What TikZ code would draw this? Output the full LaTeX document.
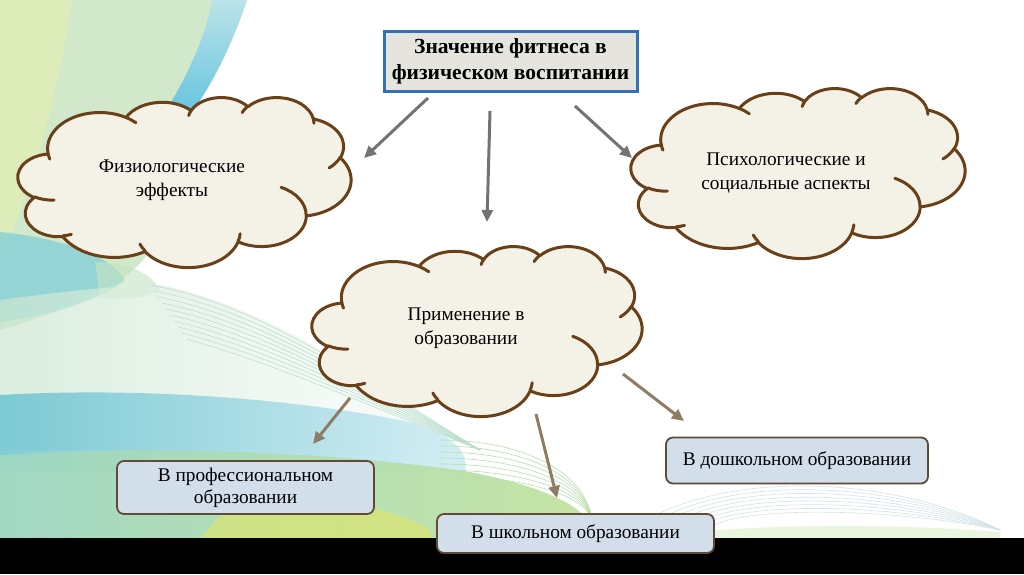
\documentclass[tikz,border=0pt]{standalone}
\usepackage{fontspec}
\setmainfont{Liberation Serif}
\usetikzlibrary{arrows.meta,calc}

\definecolor{cloudfill}{HTML}{F4F1E6}
\definecolor{cloudline}{HTML}{6A4019}
\definecolor{titlefill}{HTML}{E5E5DE}
\definecolor{titleline}{HTML}{2F72B8}
\definecolor{boxfill}{HTML}{D2DEEA}
\definecolor{boxline}{HTML}{5E4C38}
\definecolor{grayarrow}{HTML}{737373}
\definecolor{brownarrow}{HTML}{8E7C63}
\definecolor{bggreen}{HTML}{D1E8CB}
\definecolor{bgyellow}{HTML}{E2EDB6}
\definecolor{bgblue}{HTML}{55BFE4}
\definecolor{bgpaleblue}{HTML}{B8E3EE}
\definecolor{bgteal}{HTML}{86CFD8}
\definecolor{bgdeepteal}{HTML}{6CC4D2}
\definecolor{bglime}{HTML}{C3E3A0}
\definecolor{bgline}{HTML}{D2E4E8}

% arc with OOXML (visual) angles converted to parametric angles
\newcommand\pa[4]{arc[x radius=#1, y radius=#2,
  start angle={#3+atan2((#1-#2)*sin(#3)*cos(#3),#2*cos(#3)^2+#1*sin(#3)^2)},
  end angle={#3+#4+atan2((#1-#2)*sin(#3+#4)*cos(#3+#4),#2*cos(#3+#4)^2+#1*sin(#3+#4)^2)}]}

\newcommand\cloudouter{(39,143.70)
 \pa{67.53}{91.90}{-190.4875}{123.7805}
 \pa{53.33}{72.67}{-144.1024}{89.9452}
 \pa{43.65}{59.45}{-145.8079}{99.7230}
 \pa{48.57}{65.95}{-130.9861}{117.2417}
 \pa{53.33}{72.73}{-78.7089}{109.0269}
 \pa{67.75}{92.20}{-46.2673}{130.2690}
 \pa{57.85}{78.67}{0.6250}{114.0333}
 \pa{67.52}{92.15}{22.4516}{115.1726}
 \pa{77.20}{105.43}{66.2426}{75.7110}
 \pa{43.60}{59.18}{-274.9421}{146.7356}
 \pa{43.45}{59.45}{-246.8285}{152.5200} -- cycle}

\newcommand\cloudinner{(46.93,261.77) \pa{43.45}{59.45}{86.7420}{26.4295}
 (69.28,348.99) \pa{43.60}{59.18}{73.6105}{11.4475}
 (164.78,390.90) \pa{67.52}{92.15}{137.6242}{14.0811}
 (288.27,347.51) \pa{67.52}{92.15}{6.4533}{15.9984}
 (341.29,229.54) \pa{57.85}{78.67}{-70.2924}{70.9174}
 (417.98,153.54) \pa{53.33}{72.73}{30.3180}{27.7515}
 (383.24,54.26) \pa{48.57}{65.95}{-13.7443}{14.8589}
 (290.78,39.52) \pa{48.57}{65.95}{-149.1815}{18.1954}
 (221.41,47.20) \pa{43.65}{59.45}{-163.4943}{17.6864}
 (140.00,51.92) \pa{67.53}{91.90}{-66.7070}{12.3194}
 (41.27,157.89) \pa{67.53}{91.90}{157.6544}{11.8582}}

\newcommand\drawcloud[4]{%
 \begin{scope}[shift={(#1pt,-#2pt)}, x={(#3pt/432,0pt)}, y={(0pt,-#4pt/432)}]
  \fill[cloudfill] \cloudouter;
  \draw[cloudstroke] \cloudouter;
  \draw[cloudstroke] \cloudinner;
 \end{scope}}

\tikzset{
  cloudstroke/.style={draw=cloudline, line width=3pt, line join=round, line cap=round},
  ctext/.style={font=\fontsize{19.3}{24}\selectfont, align=center, inner sep=0pt},
  titlebox/.style={draw=titleline, line width=3pt, fill=titlefill, minimum width=253pt,
     minimum height=60pt, align=center, font=\fontsize{21.5}{26}\selectfont\bfseries, inner sep=0pt},
  subbox/.style={draw=boxline, line width=1.8pt, fill=boxfill, rounded corners=7pt,
     align=center, font=\fontsize{19.3}{22}\selectfont, inner sep=0pt},
  garrow/.style={draw=grayarrow, line width=3pt, -{Triangle[length=12pt,width=11pt]}},
  barrow/.style={draw=brownarrow, line width=3pt, -{Triangle[length=12pt,width=11pt]}},
  bgwave/.style={draw=bgline, line width=0.6pt}
}

\begin{document}
\begin{tikzpicture}[x=1pt,y=-1pt]
\useasboundingbox (0,0) rectangle (1024,574);
\fill[white] (0,0) rectangle (1024,574);

% ---- background decoration ----
% top-left ribbon
\fill[bggreen] (0,0) -- (247,0) .. controls (232,45) and (210,85) .. (190,115)
  -- (150,250) .. controls (130,285) and (70,310) .. (0,330) -- cycle;
\fill[bgyellow, opacity=0.8] (0,0) -- (72,0) .. controls (60,80) and (40,170) .. (0,260) -- cycle;
\shade[top color=bgpaleblue, bottom color=bgblue, opacity=0.85]
  (212,0) -- (247,0) .. controls (232,45) and (212,85) .. (192,112)
  -- (165,112) .. controls (185,80) and (205,40) .. (212,0) -- cycle;
\fill[bgteal, opacity=0.8] (0,232) .. controls (60,238) and (110,255) .. (125,280)
  .. controls (100,300) and (50,316) .. (0,322) -- cycle;
\fill[bgyellow!70!bgteal, opacity=0.6] (95,262) .. controls (120,262) and (150,270) .. (160,290)
  .. controls (140,300) and (115,300) .. (100,298) -- cycle;
% faint wave area on the left
\shade[left color=bggreen!80!bgpaleblue, right color=white, opacity=0.7]
  (0,300) .. controls (60,292) and (110,286) .. (160,285) .. controls (260,305) and (360,370) .. (480,450) -- (0,450) -- cycle;
\foreach \i in {0,...,9}{
  \draw[bgwave, draw=bggreen!70!bgteal] (150+\i*4,285+\i*6) .. controls (260,305+\i*6) and (350,370+\i*3) .. (480,450);
}
% teal band
\shade[left color=bgdeepteal, right color=bgpaleblue!70, opacity=0.85]
  (0,395) .. controls (120,388) and (270,395) .. (400,420)
  .. controls (450,432) and (470,450) .. (465,472) -- (0,472) -- cycle;
% green band
\shade[left color=bgteal!60!bglime, right color=bglime, opacity=0.95]
  (0,455) .. controls (150,445) and (340,452) .. (470,472)
  .. controls (560,490) and (592,512) .. (596,538) -- (0,538) -- cycle;
\fill[yellow!45!bglime, opacity=0.6] (230,505) .. controls (300,495) and (380,500) .. (430,530) -- (430,538) -- (200,538) -- cycle;
\foreach \i in {0,...,6}{
  \draw[bgwave, draw=bglime!80!bgteal] (440,440+\i*6) .. controls (520,440+\i*6) and (585,470+\i*4) .. (592,520);
}
% right faint waves
\fill[bglime!45, opacity=0.8] (640,538) .. controls (760,522) and (900,524) .. (1000,532) -- (1000,538) -- cycle;
\foreach \i in {0,...,7}{
  \draw[bgwave] (620+\i*12,538) .. controls (700,470+\i*5) and (880,470+\i*5) .. (1000,530);
}

% black bar
\fill[black] (0,538) rectangle (1024,574);

% ---- clouds ----
\drawcloud{18}{97}{333}{170}
\drawcloud{631}{88}{334}{170}
\drawcloud{312}{246}{330}{170}

\node[ctext] (c1) at (172,180) {Физиологические\\эффекты};
\node[ctext] (c2) at (786,173) {Психологические и\\социальные аспекты};
\node[ctext] (c3) at (466,328) {Применение в\\образовании};

% ---- title ----
\node[titlebox] (title) at (510.5,61) {Значение фитнеса в\\физическом воспитании};

% ---- boxes ----
\node[subbox, minimum width=257pt, minimum height=53pt] (prof) at (245.5,487.5) {В профессиональном\\образовании};
\node[subbox, minimum width=277pt, minimum height=39pt] (school) at (575.5,533.5) {В школьном образовании};
\node[subbox, minimum width=262pt, minimum height=46pt] (dosh) at (797,460.5) {В дошкольном образовании};

% ---- arrows ----
\coordinate (a1s) at (428,98);  \coordinate (a1e) at (364,158);
\coordinate (a2s) at (490,111); \coordinate (a2e) at (487,222);
\coordinate (a3s) at (575,106); \coordinate (a3e) at (632,158);
\coordinate (b1s) at (350,398); \coordinate (b1e) at (313,444);
\coordinate (b2s) at (536,414); \coordinate (b2e) at (557,498);
\coordinate (b3s) at (623,374); \coordinate (b3e) at (684,421);
\draw[garrow] (a1s) -- (a1e);
\draw[garrow] (a2s) -- (a2e);
\draw[garrow] (a3s) -- (a3e);
\draw[barrow] (b1s) -- (b1e);
\draw[barrow] (b2s) -- (b2e);
\draw[barrow] (b3s) -- (b3e);
\end{tikzpicture}
\end{document}
